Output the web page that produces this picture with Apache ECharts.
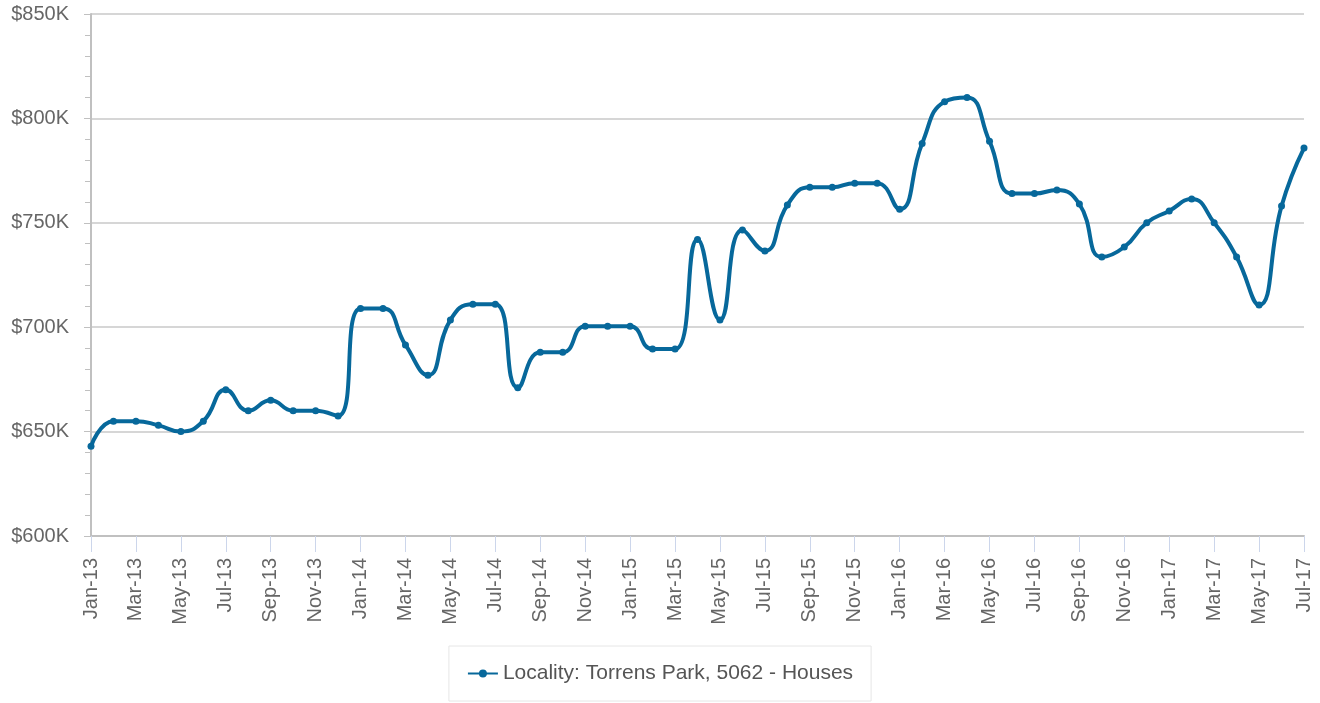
<!DOCTYPE html>
<html>
<head>
<meta charset="utf-8">
<script src="https://cdn.jsdelivr.net/npm/echarts@6/dist/echarts.min.js"></script>
<style>
    html, body { margin: 0; padding: 0; background: #fff; }
    #chart { width: 1320px; height: 703px; }
</style>
</head>
<body>
<div id="chart"></div>
<script>
    // 月份（Jan-13 ~ Jul-17）
    const months = [
        'Jan-13', 'Feb-13', 'Mar-13', 'Apr-13', 'May-13', 'Jun-13', 'Jul-13', 'Aug-13', 'Sep-13', 'Oct-13', 'Nov-13', 'Dec-13',
        'Jan-14', 'Feb-14', 'Mar-14', 'Apr-14', 'May-14', 'Jun-14', 'Jul-14', 'Aug-14', 'Sep-14', 'Oct-14', 'Nov-14', 'Dec-14',
        'Jan-15', 'Feb-15', 'Mar-15', 'Apr-15', 'May-15', 'Jun-15', 'Jul-15', 'Aug-15', 'Sep-15', 'Oct-15', 'Nov-15', 'Dec-15',
        'Jan-16', 'Feb-16', 'Mar-16', 'Apr-16', 'May-16', 'Jun-16', 'Jul-16', 'Aug-16', 'Sep-16', 'Oct-16', 'Nov-16', 'Dec-16',
        'Jan-17', 'Feb-17', 'Mar-17', 'Apr-17', 'May-17', 'Jun-17', 'Jul-17'
    ]
    // 中位价（单位：千）
    const prices = [
        643, 655, 655, 653, 650, 655, 670, 660, 665, 660, 660, 657.5,
        709, 709, 691.5, 677, 703.5, 711, 711, 671, 688, 688, 700.5, 700.5,
        700.5, 689.5, 689.5, 742, 703.5, 746.5, 736.5, 758.5, 767, 767, 769, 769,
        756.5, 788, 808, 810, 789, 764, 764, 765.7, 759, 733.6, 738.4, 750,
        755.7, 761.4, 750, 733.6, 710.6, 758, 785.8
    ]
    const seriesName = 'Locality: Torrens Park, 5062 - Houses'
    const lineColor = '#07689b'

    const chart = echarts.init(document.getElementById('chart'))
    chart.setOption({
        animation: false,
        textStyle: {fontFamily: 'Liberation Sans, Arial, sans-serif'},
        grid: {
            left: 91,
            right: 16,
            top: 14,
            bottom: 167,
            containLabel: false
        },
        legend: {
            show: true,
            bottom: 2,
            left: 'center',
            padding: [17, 18, 17, 18],
            borderColor: '#e6e6e6',
            borderWidth: 1,
            itemWidth: 30,
            itemHeight: 10,
            itemGap: 10,
            textStyle: {fontSize: 21, color: '#555'},
            data: [seriesName]
        },
        xAxis: {
            type: 'category',
            boundaryGap: false,
            data: months,
            axisLine: {lineStyle: {color: '#c0c0c0', width: 2}},
            axisTick: {
                show: true,
                interval: 1,
                length: 16,
                lineStyle: {color: '#ccd6eb'}
            },
            axisLabel: {
                interval: 1,
                rotate: 90,
                margin: 22,
                fontSize: 20,
                color: '#666'
            }
        },
        yAxis: {
            type: 'value',
            min: 600,
            max: 850,
            interval: 50,
            axisLine: {show: true, lineStyle: {color: '#c0c0c0', width: 2}},
            axisTick: {show: true, length: 7, lineStyle: {color: '#c0c0c0'}},
            minorTick: {show: true, splitNumber: 5, length: 6, lineStyle: {color: '#c0c0c0'}},
            splitLine: {lineStyle: {color: '#c8c8c8', width: 1.5}},
            axisLabel: {
                margin: 22,
                fontSize: 20,
                color: '#666',
                formatter: v => '$' + v + 'K'
            }
        },
        series: [
            {
                name: seriesName,
                type: 'line',
                data: prices,
                smooth: 0.5,
                symbol: 'circle',
                symbolSize: 7,
                itemStyle: {color: lineColor},
                lineStyle: {color: lineColor, width: 4}
            }
        ]
    })
</script>
</body>
</html>
